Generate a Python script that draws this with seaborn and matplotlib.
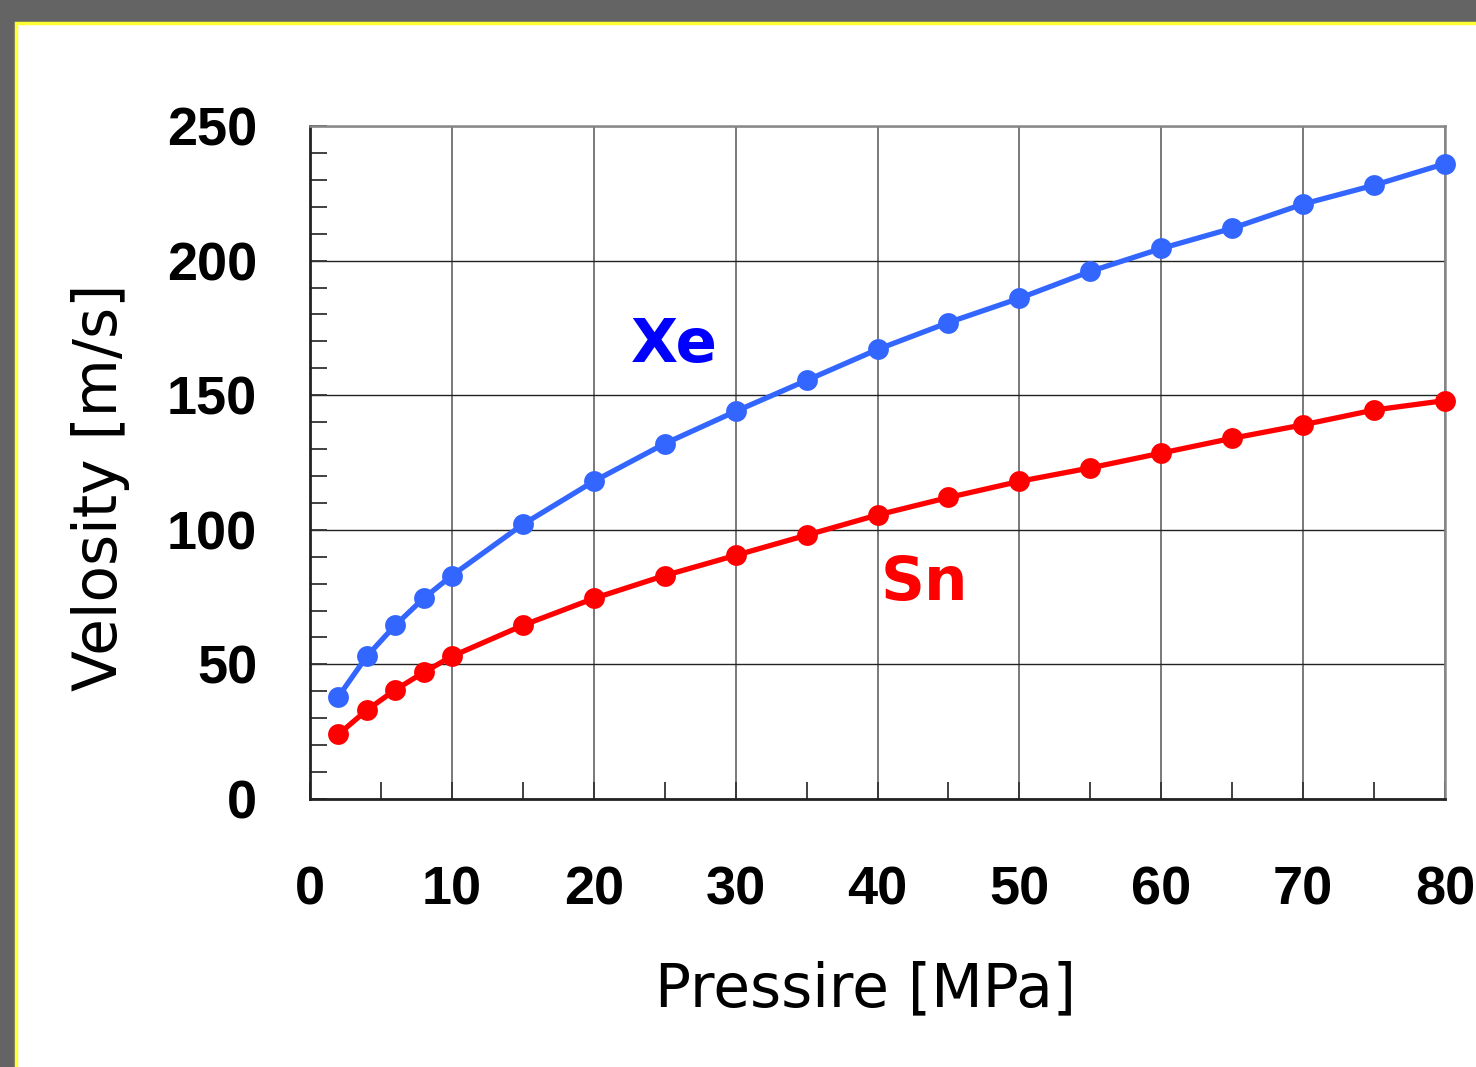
import matplotlib
matplotlib.use("Agg")
import matplotlib.pyplot as plt
import seaborn as sns
import pandas as pd
from matplotlib.patches import Rectangle
from matplotlib.ticker import MultipleLocator

pressure = [2, 4, 6, 8, 10, 15, 20, 25, 30, 35, 40, 45, 50, 55, 60, 65, 70, 75, 80]
xe_velocity = [38, 53, 64.5, 74.5, 83, 102, 118, 132, 144, 155.5, 167, 177, 186, 196, 204.5, 212, 221, 228, 236]
sn_velocity = [24, 33, 40.5, 47, 53, 64.5, 74.5, 83, 90.5, 98, 105.5, 112, 118, 123, 128.5, 134, 139, 144.5, 148]
x_ticks = [0, 10, 20, 30, 40, 50, 60, 70, 80]
y_ticks = [0, 50, 100, 150, 200, 250]

df = pd.concat([
    pd.DataFrame({"P": pressure, "V": xe_velocity, "gas": "Xe"}),
    pd.DataFrame({"P": pressure, "V": sn_velocity, "gas": "Sn"}),
])

sns.set_style("white")
plt.rcParams["text.color"] = "black"
plt.rcParams["axes.labelcolor"] = "black"
plt.rcParams["xtick.color"] = "black"
plt.rcParams["ytick.color"] = "black"

fig = plt.figure(figsize=(14.76, 10.67), dpi=100, facecolor="#646464")
bg = Rectangle((16 / 1476, -0.05), 1.1, 1.05 - 23 / 1067, transform=fig.transFigure,
               facecolor="white", edgecolor="#ffff33", linewidth=2.5, zorder=-10)
fig.add_artist(bg)
ax = fig.add_axes([310 / 1476, 1 - 799 / 1067, 1135 / 1476, 673 / 1067])
ax.set_zorder(5)
ax.set_facecolor("white")

sns.lineplot(data=df, x="P", y="V", hue="gas", palette={"Xe": "#3366ff", "Sn": "#ff0000"},
             marker="o", markersize=15, markeredgewidth=0, linewidth=3.8, ax=ax, legend=False,
             clip_on=False, zorder=5)

ax.set_xlim(0, 80)
ax.set_ylim(0, 250)
ax.set_xticks(x_ticks)
ax.set_yticks(y_ticks)
ax.xaxis.set_minor_locator(MultipleLocator(5))
ax.yaxis.set_minor_locator(MultipleLocator(10))
ax.grid(True, which="major", axis="x", color="#6e6e6e", linewidth=1.3)
ax.grid(True, which="major", axis="y", color="#222222", linewidth=1.0)
ax.tick_params(axis="both", which="both", direction="in", top=False, right=False,
               left=True, bottom=True)
ax.tick_params(axis="both", which="minor", length=12, width=1.3, color="#333333")
ax.tick_params(axis="both", which="major", length=12, width=1.3, color="#333333", labelcolor="black")
ax.tick_params(axis="x", which="major", pad=48)
ax.tick_params(axis="y", which="major", pad=38)
for lab in ax.get_xticklabels() + ax.get_yticklabels():
    lab.set_fontfamily(["Liberation Sans Narrow", "Liberation Sans", "DejaVu Sans"])
    lab.set_fontweight("bold")
    lab.set_fontsize(39)
    lab.set_color("black")
for s in ["left", "bottom"]:
    ax.spines[s].set_color("#222222")
    ax.spines[s].set_linewidth(2)
for s in ["top", "right"]:
    ax.spines[s].set_color("#888888")
    ax.spines[s].set_linewidth(1.8)
    ax.spines[s].set_visible(True)

ax.set_xlabel("Pressire [MPa]", fontsize=43, family="DejaVu Sans", color="black")
ax.set_ylabel("Velosity [m/s]", fontsize=43, family="DejaVu Sans", color="black")
ax.xaxis.set_label_coords(0.489, -0.284)
ax.xaxis.label.set_va("center")
ax.yaxis.set_label_coords(-0.185, 0.4636)
ax.yaxis.label.set_va("center")

ax.text(25.7, 168.5, "Xe", color="#0000ff", fontsize=44, fontweight="bold", ha="center", va="center",
        family="DejaVu Sans")
ax.text(43.3, 80, "Sn", color="#ff0000", fontsize=44, fontweight="bold", ha="center", va="center",
        family="DejaVu Sans")

fig.savefig("out.png", dpi=100, facecolor=fig.get_facecolor())
